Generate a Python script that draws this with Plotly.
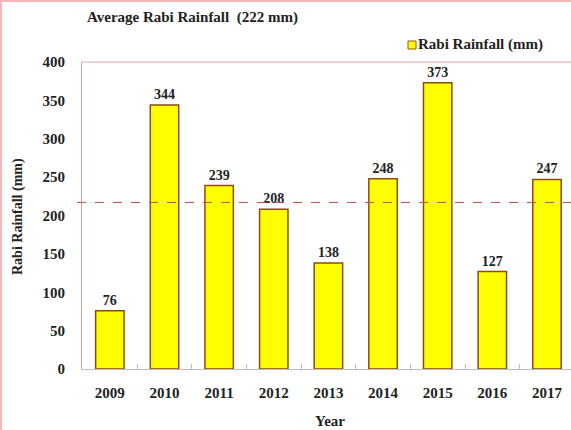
import plotly.graph_objects as go

years = ["2009", "2010", "2011", "2012", "2013", "2014", "2015", "2016", "2017"]
rainfall = [76, 344, 239, 208, 138, 248, 373, 127, 247]
average_line = 217
y_ticks = [0, 50, 100, 150, 200, 250, 300, 350, 400]

W, H = 571, 430
L, R, T, B = 82, 0, 62, 61
pw, ph = W - L - R, H - T - B

FONT = "Liberation Serif"
fig = go.Figure()
fig.add_trace(go.Bar(
    x=years, y=rainfall, width=0.52,
    marker=dict(color="#FFFF00", line=dict(color="#8E4A10", width=1.5)),
    text=[f"<b>{v}</b>" for v in rainfall], textposition="outside",
    textfont=dict(family=FONT, size=14, color="#222"),
    cliponaxis=False, showlegend=False, name="Rabi Rainfall (mm)",
))

def px(xp):
    return (xp - L) / pw

def py(yp):
    return (H - B - yp) / ph

fig.update_layout(
    width=W, height=H,
    margin=dict(l=L, r=R, t=T, b=B, autoexpand=False),
    plot_bgcolor="white", paper_bgcolor="white",
    font=dict(family=FONT, size=14, color="#222"),
    xaxis=dict(type="category", range=[-0.51, 8.44], showline=True, linecolor="#BDBDBD",
               linewidth=1, ticks="inside", tickson="boundaries", ticklen=5,
               tickcolor="#BDBDBD", showgrid=False, ticklabelstandoff=10,
               tickfont=dict(family=FONT, size=15, color="#222", weight="bold")),
    yaxis=dict(range=[0, 400], tickvals=y_ticks, showline=True, linecolor="#D9A3A3",
               linewidth=1, showgrid=False, zeroline=False, ticks="",
               ticklabelstandoff=13,
               tickfont=dict(family=FONT, size=15, color="#222", weight="bold")),
)

shapes = [
    dict(type="line", xref="paper", yref="paper", x0=0, x1=1, y0=1, y1=1,
         line=dict(color="#D9A3A3", width=1)),
    dict(type="line", xref="paper", yref="y", x0=px(77), x1=1, y0=average_line, y1=average_line,
         line=dict(color="#C0504D", width=1, dash="dash")),
    dict(type="rect", xref="paper", yref="paper", x0=px(1), x1=px(W + 3), y0=py(H + 3), y1=py(1),
         line=dict(color="#F7B8B8", width=2)),
    dict(type="rect", xref="paper", yref="paper", x0=px(408), x1=px(416), y0=py(49), y1=py(41),
         fillcolor="#FFFF00", line=dict(color="#9A5212", width=1)),
]
fig.update_layout(shapes=shapes)

annotations = [
    dict(text="<b>Average Rabi Rainfall  (222 mm)</b>", xref="paper", yref="paper",
         x=px(85), y=py(18), xanchor="left", yanchor="middle", showarrow=False,
         font=dict(family=FONT, size=15, color="#222")),
    dict(text="<b>Rabi Rainfall (mm)</b>", xref="paper", yref="paper",
         x=px(416), y=py(45), xanchor="left", yanchor="middle", showarrow=False,
         font=dict(family=FONT, size=15, color="#222")),
    dict(text="<b>Rabi Rainfall (mm)</b>", xref="paper", yref="paper",
         x=px(18), y=py(217), xanchor="center", yanchor="middle", textangle=-90,
         showarrow=False, font=dict(family=FONT, size=14, color="#222")),
    dict(text="<b>Year</b>", xref="paper", yref="paper",
         x=px(330), y=py(421), xanchor="center", yanchor="middle", showarrow=False,
         font=dict(family=FONT, size=15, color="#222")),
]
fig.update_layout(annotations=annotations)

fig.write_html("out.html", config={"displayModeBar": False},
               post_script="document.body.style.margin='0';")
